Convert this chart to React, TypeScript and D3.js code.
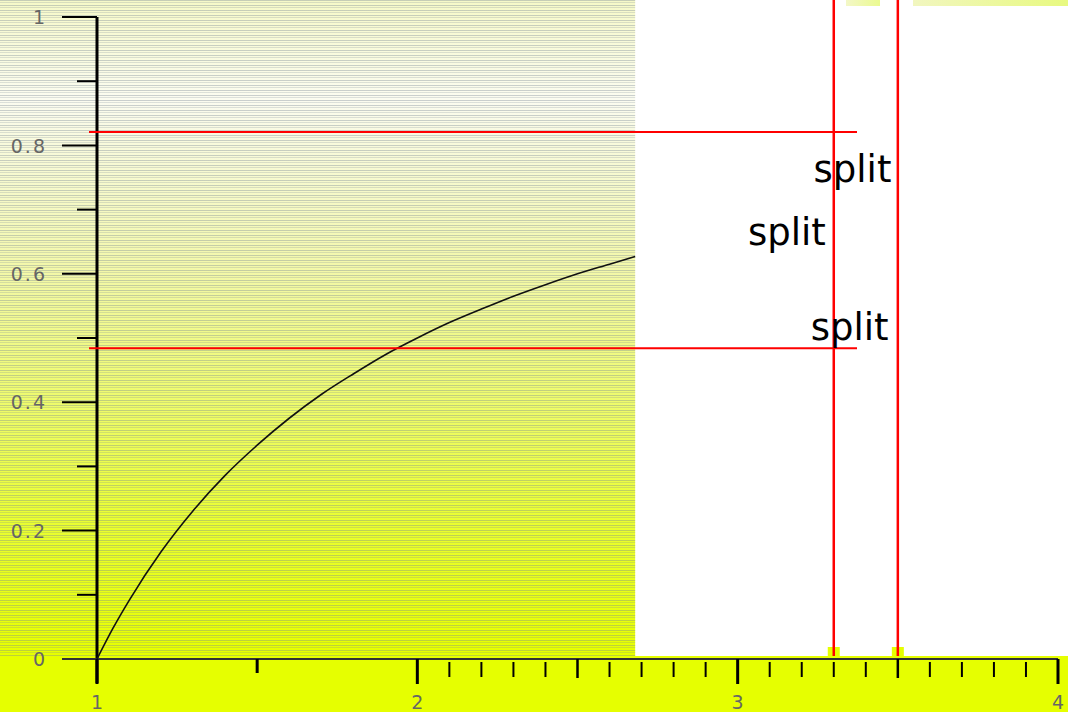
import * as d3 from "d3";

// curve (x, y)
const curveX = [1, 1.05, 1.1, 1.2, 1.3, 1.4, 1.5, 1.6, 1.7, 1.8, 1.9, 2.0, 2.1, 2.2, 2.3, 2.4, 2.5, 2.6, 2.68];
const curveY = [0, 0.048, 0.091, 0.167, 0.231, 0.286, 0.333, 0.375, 0.412, 0.444, 0.474, 0.5, 0.524, 0.545, 0.565, 0.583, 0.6, 0.615, 0.627];

// red split markers
const splitY = [0.821, 0.484];
const splitX = [3.3, 3.5];
const labelText = ["split", "split", "split"];
const labelX = [3.48, 3.275, 3.471];
const labelY = [0.743, 0.645, 0.497];

// axis ticks
const yMajor = [0, 0.2, 0.4, 0.6, 0.8, 1];
const yLabels = ["0", "0.2", "0.4", "0.6", "0.8", "1"];
const yMinor = [0.1, 0.3, 0.5, 0.7, 0.9];
const xMajor = [1, 2, 3, 4];
const xLabels = ["1", "2", "3", "4"];
const xHalf = [1.5, 2.5, 3.5];
const xMinor = [2.1, 2.2, 2.3, 2.4, 2.6, 2.7, 2.8, 2.9, 3.1, 3.2, 3.3, 3.4, 3.6, 3.7, 3.8, 3.9];

const W = 1068;
const H = 712;

export default function App() {
  const x = d3.scaleLinear().domain([1, 4]).range([97, 1058]);
  const y = d3.scaleLinear().domain([0, 1]).range([659, 17]);

  const pts: [number, number][] = curveX.map((v, i) => [v, curveY[i]]);
  const line = d3
    .line<[number, number]>()
    .x((d) => x(d[0]))
    .y((d) => y(d[1]))
    .curve(d3.curveMonotoneX);

  const labelFont = "'DejaVu Sans', sans-serif";
  const bandTop = y(0) - 3;
  const stripeRight = x(2.68);

  return (
    <svg
      width={W}
      height={H}
      style={{ position: "fixed", left: 0, top: 0, background: "#fff" }}
    >
      <defs>
        <linearGradient id="bg" x1="0" y1="0" x2="0" y2="1">
          <stop offset="0" stopColor="#f6f9c8" />
          <stop offset="0.15" stopColor="#fbfcf0" />
          <stop offset="0.22" stopColor="#f8fadc" />
          <stop offset="0.4" stopColor="#f3f8ac" />
          <stop offset="0.6" stopColor="#eefb70" />
          <stop offset="0.8" stopColor="#e9fe30" />
          <stop offset="1" stopColor="#e6ff00" />
        </linearGradient>
        <pattern id="stripes" width="8" height="5" patternUnits="userSpaceOnUse">
          <rect x="0" y="0" width="8" height="1" fill="rgba(120,135,150,0.38)" />
          <rect x="0" y="2" width="8" height="1" fill="rgba(120,135,150,0.24)" />
        </pattern>
        <linearGradient id="topfrag" x1="0" y1="0" x2="1" y2="0">
          <stop offset="0" stopColor="#eef4b0" />
          <stop offset="1" stopColor="#e2f860" />
        </linearGradient>
      </defs>

      {/* striped background block */}
      <rect x={0} y={0} width={stripeRight} height={bandTop} fill="url(#bg)" />
      <rect x={0} y={0} width={stripeRight} height={bandTop} fill="url(#stripes)" />
      {/* yellow floor band */}
      <rect x={0} y={bandTop} width={W} height={H - bandTop} fill="#e6ff00" />
      {/* top right fragments */}
      <rect x={846} y={0} width={34} height={6} fill="url(#topfrag)" opacity={0.7} />
      <rect x={913} y={0} width={W - 913} height={6} fill="url(#topfrag)" opacity={0.8} />

      {/* y axis */}
      <line x1={x(1)} x2={x(1)} y1={y(1)} y2={683} stroke="#000" strokeWidth={3} />
      {yMajor.map((v) => (
        <line key={"ym" + v} x1={62} x2={x(1)} y1={y(v)} y2={y(v)} stroke="#000" strokeWidth={2} />
      ))}
      {yMinor.map((v) => (
        <line key={"yn" + v} x1={77} x2={x(1)} y1={y(v)} y2={y(v)} stroke="#000" strokeWidth={2} />
      ))}
      {yMajor.map((v, i) => (
        <text
          key={"yl" + v}
          x={47}
          y={y(v)}
          dy="0.38em"
          textAnchor="end"
          fill="#666"
          fontSize={19}
          letterSpacing={2}
          fontFamily={labelFont}
        >
          {yLabels[i]}
        </text>
      ))}

      {/* x axis */}
      <line x1={62} x2={x(4)} y1={y(0)} y2={y(0)} stroke="#333" strokeWidth={2} />
      {xMajor.map((v) => (
        <line key={"xm" + v} x1={x(v)} x2={x(v)} y1={y(0)} y2={684} stroke="#000" strokeWidth={3} />
      ))}
      {xHalf.map((v) => (
        <line key={"xh" + v} x1={x(v)} x2={x(v)} y1={y(0)} y2={v === 1.5 ? 673 : 678} stroke="#000" strokeWidth={v === 1.5 ? 3 : 2.5} />
      ))}
      {xMinor.map((v) => (
        <line key={"xn" + v} x1={x(v)} x2={x(v)} y1={662} y2={677} stroke="#000" strokeWidth={2} />
      ))}
      {xMajor.map((v, i) => (
        <text
          key={"xl" + v}
          x={x(v)}
          y={709}
          textAnchor="middle"
          fill="#666"
          fontSize={19}
          fontFamily={labelFont}
        >
          {xLabels[i]}
        </text>
      ))}

      {/* curve */}
      <path d={line(pts) ?? ""} fill="none" stroke="#111" strokeWidth={1.6} />

      {/* split markers */}
      {splitY.map((v) => (
        <line key={"sy" + v} x1={89} x2={857} y1={y(v)} y2={y(v)} stroke="#ff0000" strokeWidth={2} />
      ))}
      {splitX.map((v) => (
        <g key={"sx" + v}>
          <rect x={x(v) - 6} y={bandTop - 9} width={12} height={9} fill="#e6ff00" />
          <line x1={x(v)} x2={x(v)} y1={0} y2={bandTop} stroke="#ff0000" strokeWidth={2.5} />
        </g>
      ))}
      {labelText.map((t, i) => (
        <text
          key={"lab" + i}
          x={x(labelX[i])}
          y={y(labelY[i])}
          textAnchor="end"
          fontSize={37}
          fill="#000"
          fontFamily="'DejaVu Sans', sans-serif"
        >
          {t}
        </text>
      ))}
    </svg>
  );
}
